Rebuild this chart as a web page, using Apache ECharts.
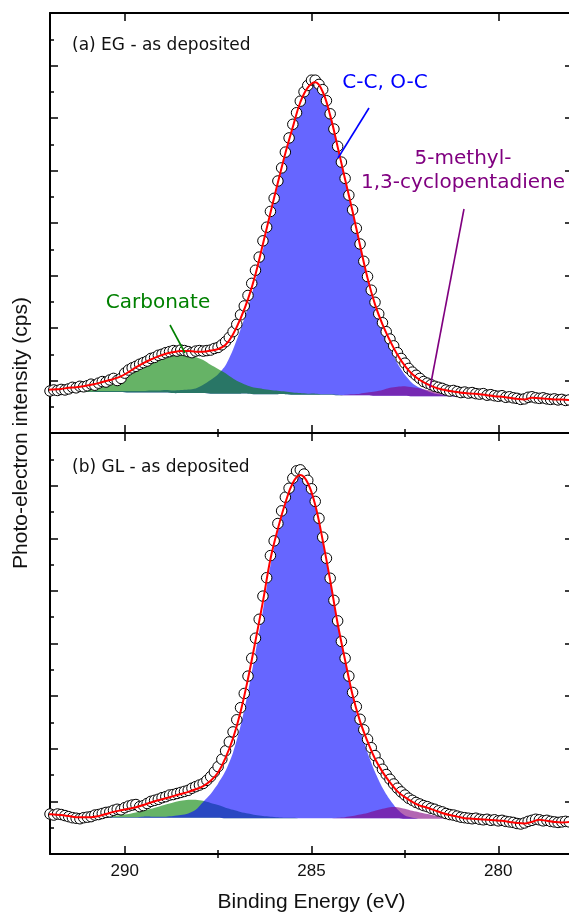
<!DOCTYPE html>
<html><head><meta charset="utf-8">
<script src="https://cdn.jsdelivr.net/npm/echarts@6/dist/echarts.min.js"></script>
<style>html,body{margin:0;padding:0;background:#fff}#c{width:569px;height:915px}</style>
</head><body><div id="c"></div>
<script>
// ---- energy sampling (binding energy, eV) ----
const energyStart = 292.1;
const curveStep = 0.2;   // fit + components
const pointStep = 0.1;   // measured points
const xMajorTicks = [280, 285, 290];
const xMinorTicks = [282.5, 287.5];
const panelLabels = ['(a) EG - as deposited', '(b) GL - as deposited'];
const componentNames = ['C-C, O-C', 'Carbonate', '5-methyl-\n1,3-cyclopentadiene'];

// ---- panel (a) EG ----
const dataA = [
0.81,0.80,0.82,0.81,0.83,0.82,0.84,0.87,0.86,0.89,
0.88,0.90,0.93,0.91,0.95,0.98,0.97,1.01,1.04,1.00,
1.04,1.14,1.20,1.24,1.27,1.31,1.34,1.37,1.42,1.44,
1.48,1.50,1.53,1.55,1.57,1.56,1.58,1.57,1.55,1.53,
1.56,1.57,1.56,1.57,1.58,1.61,1.63,1.68,1.74,1.82,
1.93,2.07,2.25,2.42,2.62,2.85,3.10,3.35,3.66,3.92,
4.22,4.47,4.80,5.05,5.35,5.62,5.88,6.10,6.32,6.50,
6.62,6.72,6.72,6.64,6.54,6.33,6.08,5.79,5.46,5.16,
4.85,4.53,4.25,3.90,3.60,3.27,2.98,2.72,2.49,2.27,
2.10,1.93,1.79,1.66,1.53,1.42,1.33,1.23,1.16,1.10,
1.04,0.98,0.95,0.92,0.89,0.87,0.85,0.82,0.80,0.81,
0.79,0.77,0.78,0.76,0.77,0.75,0.74,0.75,0.72,0.73,
0.71,0.70,0.71,0.68,0.69,0.67,0.66,0.64,0.65,0.68,
0.69,0.67,0.66,0.67,0.65,0.64,0.65,0.63,0.64,0.62,
0.63];
const fitA = [
0.82,0.83,0.84,0.86,0.87,0.89,0.92,0.95,0.99,1.03,
1.08,1.16,1.25,1.33,1.40,1.46,1.51,1.54,1.56,1.56,
1.55,1.55,1.57,1.60,1.68,1.88,2.18,2.55,3.02,3.60,
4.19,4.77,5.33,5.83,6.30,6.58,6.68,6.50,6.05,5.45,
4.83,4.22,3.57,2.95,2.45,2.07,1.76,1.49,1.28,1.12,
1.01,0.93,0.87,0.83,0.80,0.78,0.76,0.75,0.74,0.72,
0.70,0.69,0.67,0.65,0.64,0.67,0.66,0.65,0.64,0.64,
0.63];
const backgroundA = [
0.79,0.79,0.79,0.79,0.79,0.78,0.78,0.78,0.78,0.78,
0.78,0.77,0.77,0.77,0.77,0.77,0.77,0.76,0.76,0.76,
0.76,0.76,0.75,0.75,0.75,0.75,0.75,0.75,0.74,0.74,
0.74,0.74,0.74,0.73,0.73,0.73,0.73,0.73,0.73,0.72,
0.72,0.72,0.72,0.72,0.71,0.71,0.71,0.71,0.71,0.70,
0.70,0.70,0.70,0.70,0.70,0.69,0.69,0.69,0.69,0.69,
0.68,0.68,0.68,0.68,0.68,0.67,0.67,0.67,0.67,0.67,
0.67];
const ccA = [
0.00,0.00,0.01,0.01,0.01,0.01,0.01,0.02,0.02,0.02,
0.02,0.03,0.03,0.03,0.04,0.04,0.05,0.05,0.06,0.07,
0.09,0.16,0.26,0.37,0.54,0.84,1.22,1.65,2.16,2.75,
3.37,3.97,4.55,5.06,5.54,5.82,5.94,5.77,5.32,4.72,
4.10,3.48,2.82,2.18,1.66,1.25,0.91,0.62,0.40,0.25,
0.16,0.10,0.05,0.03,0.02,0.01,0.01,0.00,0.00,0.00,
0.00,0.00,0.00,0.00,0.00,0.00,0.00,0.00,0.00,0.00,
0.00];
const carbonateA = [
0.00,0.00,0.01,0.01,0.02,0.03,0.05,0.08,0.12,0.18,
0.25,0.33,0.42,0.51,0.59,0.66,0.71,0.74,0.75,0.73,
0.69,0.63,0.55,0.47,0.39,0.29,0.21,0.15,0.12,0.10,
0.08,0.065,0.05,0.04,0.03,0.02,0.02,0.01,0.01,0.01,
0.00,0.00,0.00,0.00,0.00,0.00,0.00,0.00,0.00,0.00,
0.00,0.00,0.00,0.00,0.00,0.00,0.00,0.00,0.00,0.00,
0.00,0.00,0.00,0.00,0.00,0.00,0.00,0.00,0.00,0.00,
0.00];
const methylA = [
0.00,0.00,0.00,0.00,0.00,0.00,0.00,0.00,0.00,0.00,
0.00,0.00,0.00,0.00,0.00,0.00,0.00,0.00,0.00,0.00,
0.00,0.00,0.00,0.00,0.00,0.00,0.00,0.00,0.00,0.00,
0.00,0.00,0.00,0.00,0.00,0.00,0.00,0.00,0.00,0.00,
0.01,0.02,0.03,0.05,0.08,0.11,0.15,0.17,0.18,0.17,
0.15,0.12,0.09,0.06,0.04,0.02,0.01,0.00,0.00,0.00,
0.00,0.00,0.00,0.00,0.00,0.00,0.00,0.00,0.00,0.00,
0.00];

// ---- panel (b) GL ----
const dataB = [
0.75,0.76,0.74,0.76,0.75,0.73,0.71,0.69,0.68,0.67,
0.69,0.70,0.71,0.74,0.75,0.77,0.79,0.80,0.83,0.85,
0.84,0.88,0.91,0.93,0.94,0.90,0.92,0.96,1.00,1.02,
1.04,1.07,1.09,1.12,1.13,1.15,1.17,1.19,1.21,1.25,
1.28,1.31,1.34,1.40,1.47,1.56,1.66,1.80,1.96,2.13,
2.32,2.55,2.78,3.05,3.38,3.72,4.10,4.46,4.90,5.25,
5.67,5.95,6.28,6.52,6.78,6.95,7.14,7.28,7.30,7.22,
7.10,6.94,6.70,6.38,6.02,5.62,5.24,4.82,4.43,4.04,
3.72,3.38,3.07,2.80,2.56,2.36,2.18,2.02,1.87,1.73,
1.61,1.51,1.42,1.33,1.25,1.18,1.12,1.06,1.02,0.98,
0.95,0.92,0.90,0.87,0.85,0.82,0.80,0.77,0.75,0.74,
0.72,0.70,0.69,0.68,0.67,0.68,0.66,0.65,0.66,0.64,
0.65,0.63,0.64,0.62,0.61,0.60,0.58,0.57,0.59,0.62,
0.64,0.66,0.65,0.63,0.64,0.62,0.61,0.60,0.61,0.62,
0.61];
const fitB = [
0.76,0.75,0.74,0.72,0.70,0.70,0.70,0.72,0.76,0.80,
0.83,0.86,0.89,0.93,0.98,1.02,1.06,1.10,1.14,1.18,
1.23,1.29,1.39,1.55,1.83,2.20,2.70,3.33,4.05,4.80,
5.60,6.18,6.67,7.05,7.20,7.05,6.63,5.96,5.20,4.38,
3.68,3.02,2.52,2.14,1.81,1.56,1.36,1.19,1.08,0.99,
0.92,0.88,0.83,0.78,0.74,0.71,0.68,0.67,0.66,0.65,
0.64,0.63,0.61,0.59,0.58,0.61,0.65,0.63,0.61,0.60,
0.61];
const backgroundB = [
0.69,0.69,0.69,0.69,0.69,0.69,0.69,0.69,0.69,0.69,
0.69,0.69,0.69,0.69,0.69,0.69,0.69,0.69,0.69,0.69,
0.69,0.69,0.69,0.69,0.68,0.68,0.68,0.68,0.68,0.68,
0.68,0.68,0.68,0.68,0.68,0.68,0.68,0.68,0.68,0.68,
0.68,0.68,0.68,0.68,0.68,0.68,0.68,0.68,0.67,0.67,
0.67,0.67,0.67,0.67,0.67,0.67,0.67,0.67,0.67,0.67,
0.67,0.67,0.67,0.67,0.67,0.67,0.67,0.67,0.67,0.67,
0.67];
const ccB = [
0.00,0.00,0.00,0.00,0.00,0.00,0.00,0.01,0.01,0.01,
0.01,0.01,0.01,0.02,0.02,0.02,0.02,0.03,0.05,0.08,
0.15,0.30,0.45,0.65,0.90,1.25,1.75,2.40,3.15,3.95,
4.80,5.45,5.95,6.35,6.50,6.36,5.93,5.26,4.50,3.70,
2.98,2.30,1.72,1.25,0.88,0.58,0.35,0.17,0.06,0.02,
0.00,0.00,0.00,0.00,0.00,0.00,0.00,0.00,0.00,0.00,
0.00,0.00,0.00,0.00,0.00,0.00,0.00,0.00,0.00,0.00,
0.00];
const carbonateB = [
0.00,0.00,0.00,0.00,0.00,0.00,0.00,0.01,0.02,0.03,
0.05,0.07,0.10,0.13,0.17,0.21,0.25,0.29,0.32,0.34,
0.34,0.32,0.28,0.24,0.20,0.16,0.12,0.09,0.06,0.04,
0.03,0.02,0.01,0.01,0.00,0.00,0.00,0.00,0.00,0.00,
0.00,0.00,0.00,0.00,0.00,0.00,0.00,0.00,0.00,0.00,
0.00,0.00,0.00,0.00,0.00,0.00,0.00,0.00,0.00,0.00,
0.00,0.00,0.00,0.00,0.00,0.00,0.00,0.00,0.00,0.00,
0.00];
const methylB = [
0.00,0.00,0.00,0.00,0.00,0.00,0.00,0.00,0.00,0.00,
0.00,0.00,0.00,0.00,0.00,0.00,0.00,0.00,0.00,0.00,
0.00,0.00,0.00,0.00,0.00,0.00,0.00,0.00,0.00,0.00,
0.00,0.00,0.00,0.00,0.00,0.00,0.00,0.00,0.00,0.01,
0.02,0.04,0.07,0.10,0.14,0.18,0.21,0.21,0.19,0.15,
0.12,0.09,0.06,0.03,0.01,0.00,0.00,0.00,0.00,0.00,
0.00,0.00,0.00,0.00,0.00,0.00,0.00,0.00,0.00,0.00,
0.00];

// ---------------------------------------------------------
function energyAt(i, step) { return Math.round((energyStart - i * step) * 100) / 100; }
function toPairs(values, step) { return values.map((v, i) => [energyAt(i, step), v]); }
const BLUE = '#0000ff', GREEN = '#008000', PURPLE = '#800080';
const AX = 'Liberation Sans, Arial, sans-serif';
const LBL = 'DejaVu Sans, Verdana, sans-serif';

const grids = [
  { left: 50, top: 13, width: 523, height: 420, outerBoundsMode: 'none' },
  { left: 50, top: 433, width: 523, height: 421, outerBoundsMode: 'none' }
];
const xAxes = [], yAxes = [];
const tickStyle = { color: '#000', width: 1.5 };
grids.forEach((g, gi) => {
  ['bottom', 'top'].forEach(pos => {
    xAxes.push({
      gridIndex: gi, type: 'value', min: 278, max: 292, inverse: true, position: pos,
      axisLine: { show: true, onZero: false, lineStyle: { color: '#000', width: 2 } },
      axisTick: { show: true, inside: true, length: 8, customValues: xMajorTicks, lineStyle: tickStyle },
      axisLabel: { show: gi === 1 && pos === 'bottom', customValues: xMajorTicks, color: '#111',
                   fontFamily: AX, fontSize: 17, margin: 9 },
      splitLine: { show: false }
    });
    xAxes.push({
      gridIndex: gi, type: 'value', min: 278, max: 292, inverse: true, position: pos,
      axisLine: { show: false },
      axisTick: { show: true, inside: true, length: 4, customValues: xMinorTicks, lineStyle: tickStyle },
      axisLabel: { show: false },
      splitLine: { show: false }
    });
  });
  ['left', 'right'].forEach(pos => {
    yAxes.push({
      gridIndex: gi, type: 'value', min: 0, max: 8, interval: 1, position: pos,
      axisLine: { show: true, onZero: false, lineStyle: { color: '#000', width: 2 } },
      axisTick: { show: true, inside: true, length: 8, lineStyle: tickStyle },
      minorTick: { show: true, splitNumber: 2, length: 4, lineStyle: tickStyle },
      axisLabel: { show: false },
      splitLine: { show: false }, minorSplitLine: { show: false }
    });
  });
});

// component fill: polygon between background and background + component height,
// positioned through the axes with api.coord
function component(gi, bg, heights, color) {
  return {
    type: 'custom', xAxisIndex: gi * 4, yAxisIndex: gi * 2, clip: true, silent: true, z: 1,
    data: [[energyAt(0, curveStep), bg[0]]],
    renderItem: function (params, api) {
      const pts = [];
      for (let i = 0; i < heights.length; i++) pts.push(api.coord([energyAt(i, curveStep), bg[i] + heights[i]]));
      for (let i = heights.length - 1; i >= 0; i--) pts.push(api.coord([energyAt(i, curveStep), bg[i]]));
      return { type: 'polygon', shape: { points: pts, smooth: 0.25 },
               style: { fill: color, opacity: 0.6 } };
    }
  };
}
function points(gi, vals) {
  return { type: 'scatter', xAxisIndex: gi * 4, yAxisIndex: gi * 2, data: toPairs(vals, pointStep),
           symbol: 'circle', symbolSize: 10.5, z: 3, silent: true,
           itemStyle: { color: '#fff', borderColor: '#000', borderWidth: 1, opacity: 1 } };
}
function fit(gi, vals) {
  return { type: 'line', xAxisIndex: gi * 4, yAxisIndex: gi * 2, data: toPairs(vals, curveStep),
           symbol: 'none', smooth: 0.4, z: 4, silent: true, lineStyle: { color: '#ff0000', width: 2 } };
}

const series = [
  component(0, backgroundA, ccA, BLUE),
  component(0, backgroundA, carbonateA, GREEN),
  component(0, backgroundA, methylA, PURPLE),
  points(0, dataA), fit(0, fitA),
  component(1, backgroundB, carbonateB, GREEN),
  component(1, backgroundB, ccB, BLUE),
  component(1, backgroundB, methylB, PURPLE),
  points(1, dataB), fit(1, fitB)
];

function txt(x, y, text, size, color, font, align, extra) {
  return Object.assign({ type: 'text', x: x, y: y, z: 100, silent: true,
    style: { text: text, fill: color, font: size + 'px ' + font, align: align || 'center', verticalAlign: 'middle' } }, extra || {});
}
function seg(x1, y1, x2, y2, color) {
  return { type: 'line', z: 100, silent: true, shape: { x1, y1, x2, y2 }, style: { stroke: color, lineWidth: 1.6 } };
}
const graphic = [
  txt(72, 46, panelLabels[0], 17, '#111', LBL, 'left'),
  txt(72, 468, panelLabels[1], 17, '#111', LBL, 'left'),
  txt(385, 83, componentNames[0], 20, BLUE, LBL),
  txt(158, 303, componentNames[1], 20, GREEN, LBL),
  { type: 'text', x: 463, y: 171, z: 100, silent: true,
    style: { text: componentNames[2], fill: PURPLE, font: '20px ' + LBL, align: 'center', verticalAlign: 'middle', lineHeight: 24 } },
  seg(369, 108, 338, 158, BLUE),
  seg(170, 325, 185, 353, GREEN),
  seg(464, 209, 430, 388, PURPLE),
  txt(311.5, 902, 'Binding Energy (eV)', 21, '#111', AX),
  txt(0, 0, 'Photo-electron intensity (cps)', 21, '#111', AX, 'center', { x: 21, y: 433, rotation: Math.PI / 2 })
];

const chart = echarts.init(document.getElementById('c'), null, { renderer: 'canvas' });
chart.setOption({
  animation: false,
  backgroundColor: '#fff',
  grid: grids, xAxis: xAxes, yAxis: yAxes, series: series, graphic: graphic
});
</script></body></html>
